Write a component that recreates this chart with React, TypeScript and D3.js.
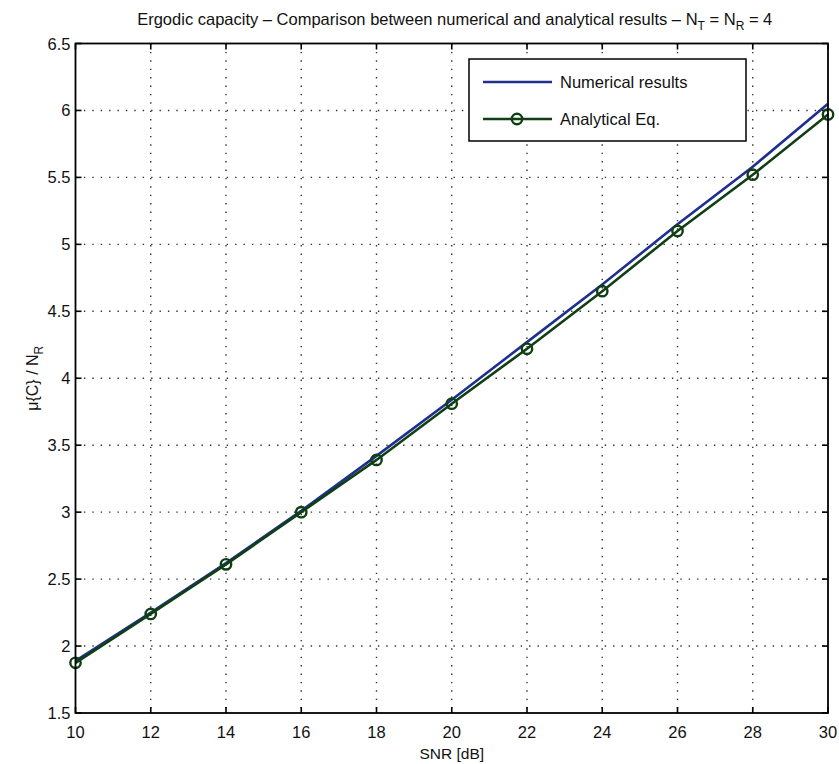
import React from "react";
import * as d3 from "d3";

const snr = [10, 12, 14, 16, 18, 20, 22, 24, 26, 28, 30];
const numerical = [1.89, 2.25, 2.62, 3.01, 3.42, 3.84, 4.27, 4.7, 5.15, 5.58, 6.05];
const analytical = [1.875, 2.24, 2.61, 3.0, 3.39, 3.81, 4.22, 4.65, 5.1, 5.52, 5.97];
const xTicks = [10, 12, 14, 16, 18, 20, 22, 24, 26, 28, 30];
const yTicks = [1.5, 2, 2.5, 3, 3.5, 4, 4.5, 5, 5.5, 6, 6.5];

const W = 839, H = 764;
const L = 75.5, R = 828, T = 43.5, B = 713;
const FONT = "'Liberation Sans', Arial, Helvetica, sans-serif";
const BLUE = "#1f2f8f";
const GREEN = "#0f3f12";

export default function App() {
  const x = d3.scaleLinear().domain([10, 30]).range([L, R]);
  const y = d3.scaleLinear().domain([1.5, 6.5]).range([B, T]);
  const line = d3.line<number>().x((_, i) => x(snr[i])).y((d) => y(d));
  const tick = 6;
  return (
    <svg width={W} height={H} style={{ position: "absolute", left: 0, top: 0, background: "#fff" }}>
      <rect x={0} y={0} width={W} height={H} fill="#fff" />
      {xTicks.slice(1, -1).map((t) => (
        <line key={"gx" + t} x1={x(t)} x2={x(t)} y1={T} y2={B} stroke="#333" strokeWidth={1.4} strokeDasharray="1.4,7" />
      ))}
      {yTicks.slice(1, -1).map((t) => (
        <line key={"gy" + t} x1={L} x2={R} y1={y(t)} y2={y(t)} stroke="#333" strokeWidth={1.4} strokeDasharray="1.4,7" />
      ))}
      {xTicks.map((t) => (
        <g key={"tx" + t}>
          <line x1={x(t)} x2={x(t)} y1={B} y2={B - tick} stroke="#000" strokeWidth={1.6} />
          <line x1={x(t)} x2={x(t)} y1={T} y2={T + tick} stroke="#000" strokeWidth={1.6} />
          <text x={x(t)} y={B + 25} textAnchor="middle" fontFamily={FONT} fontSize={16.5} fill="#111">{t}</text>
        </g>
      ))}
      {yTicks.map((t) => (
        <g key={"ty" + t}>
          <line x1={L} x2={L + tick} y1={y(t)} y2={y(t)} stroke="#000" strokeWidth={1.6} />
          <line x1={R} x2={R - tick} y1={y(t)} y2={y(t)} stroke="#000" strokeWidth={1.6} />
          <text x={L - 5} y={y(t) + 6} textAnchor="end" fontFamily={FONT} fontSize={16.5} fill="#111">{t}</text>
        </g>
      ))}
      <path d={line(numerical) || ""} fill="none" stroke={BLUE} strokeWidth={2.6} />
      <path d={line(analytical) || ""} fill="none" stroke={GREEN} strokeWidth={2.6} />
      {analytical.map((v, i) => (
        <circle key={"c" + i} cx={x(snr[i])} cy={y(v)} r={5.2} fill="none" stroke={GREEN} strokeWidth={2.4} />
      ))}
      <rect x={L} y={T} width={R - L} height={B - T} fill="none" stroke="#000" strokeWidth={1.8} />
      <rect x={469} y={59} width={277} height={82} fill="#fff" stroke="#000" strokeWidth={1.5} />
      <line x1={483} x2={552} y1={82} y2={82} stroke={BLUE} strokeWidth={2.6} />
      <text x={560} y={88} fontFamily={FONT} fontSize={16.5} fill="#111">Numerical results</text>
      <line x1={483} x2={552} y1={119} y2={119} stroke={GREEN} strokeWidth={2.6} />
      <circle cx={517} cy={119} r={5.2} fill="none" stroke={GREEN} strokeWidth={2.4} />
      <text x={560} y={125} fontFamily={FONT} fontSize={16.5} fill="#111">Analytical Eq.</text>
      <text x={(L + R) / 2 + 3} y={25} textAnchor="middle" fontFamily={FONT} fontSize={16.5} fill="#111">
        Ergodic capacity – Comparison between numerical and analytical results – N
        <tspan fontSize={12} dy={5}>T</tspan>
        <tspan dy={-5}> = N</tspan>
        <tspan fontSize={12} dy={5}>R</tspan>
        <tspan dy={-5}> = 4</tspan>
      </text>
      <text x={(L + R) / 2} y={759} textAnchor="middle" fontFamily={FONT} fontSize={15.5} fill="#111">SNR [dB]</text>
      <text transform={`translate(38,${(T + B) / 2}) rotate(-90)`} textAnchor="middle" fontFamily={FONT} fontSize={16} fill="#111">
        μ{"{C}"} / N<tspan fontSize={12} dy={5}>R</tspan>
      </text>
    </svg>
  );
}
